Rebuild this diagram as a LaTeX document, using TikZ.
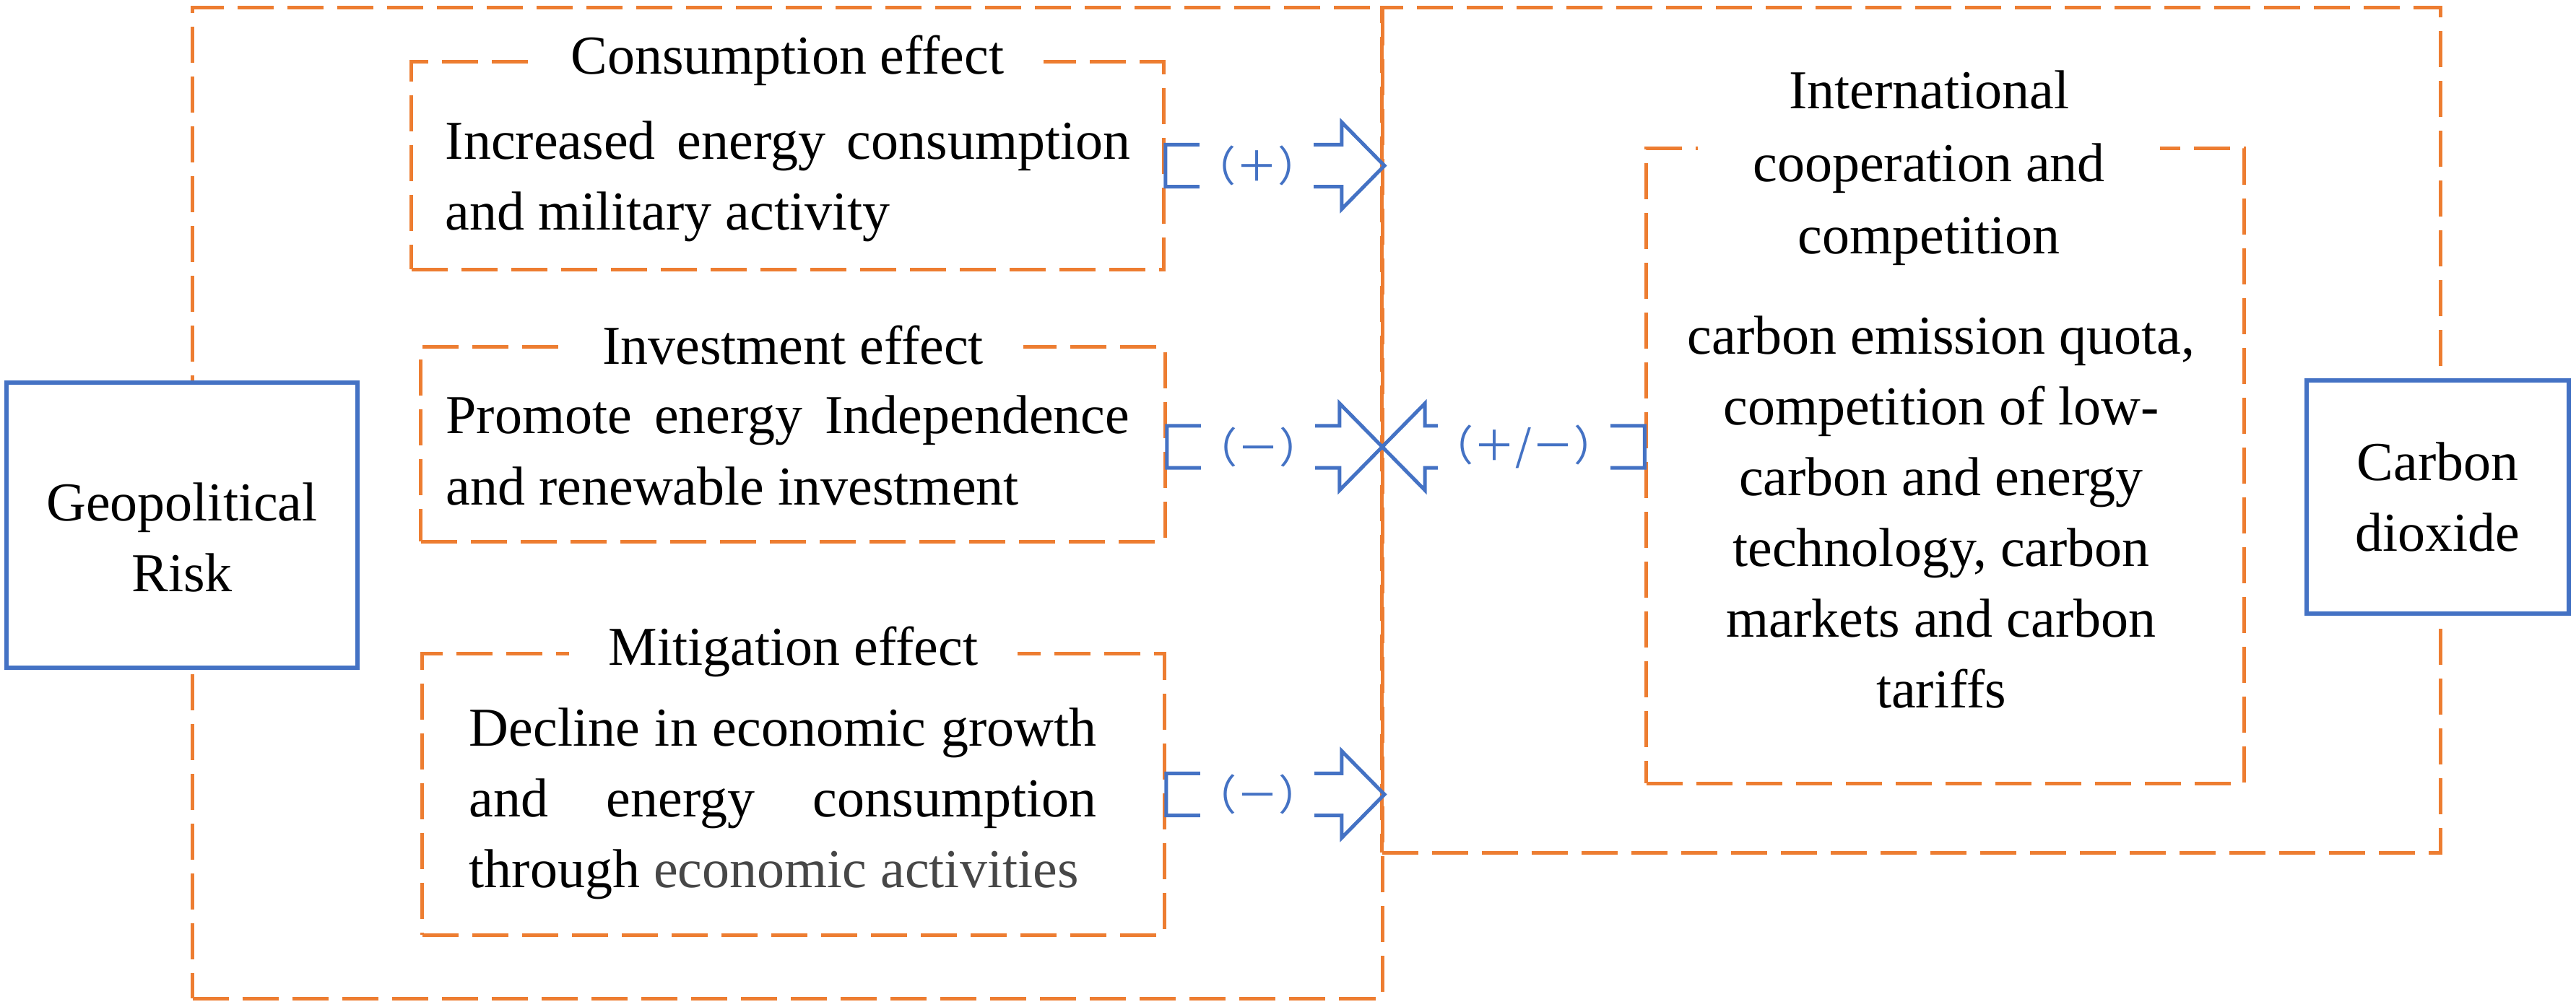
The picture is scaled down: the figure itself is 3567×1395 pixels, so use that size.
\documentclass[tikz,border=0pt]{standalone}
\usepackage{fontspec}
\setmainfont{Liberation Serif}
\newfontfamily\signfont{Noto Sans CJK SC}
\usepackage{tikz}
\usetikzlibrary{calc}
\usetikzlibrary{positioning}
\definecolor{effOrange}{HTML}{ED7D31}
\definecolor{effBlue}{HTML}{4472C4}
\hyphenpenalty=10000
\tolerance=10000
\hbadness=10000
\newcommand{\stemh}{0.29cm}
\newcommand{\headl}{0.59cm}
\newcommand{\headh}{0.6cm}
\newcommand{\tailgap}{0.45cm}
% hollow block arrow from #2 to #3, sign label #5 named #1 (anchor #4)
\newcommand{\effarrow}[5]{%
	\draw[signarrow] let \p1=(#2), \p2=(#3), \n1={ifthenelse(\x2>\x1,1,-1)},
		\n2={\x2-\n1*\headl} in
		(\x1,{\y1+\stemh}) -- (\n2,{\y1+\stemh}) -- (\n2,{\y1+\headh})
		-- (\x2,\y1) -- (\n2,{\y1-\headh}) -- (\n2,{\y1-\stemh})
		-- (\x1,{\y1-\stemh}) -- cycle
		({\x1+\n1*\tailgap},\y1) node[signlabel,anchor=#4] (#1) {#5};
}
\tikzset{
	textfont/.style={font=\fontsize{21.6pt}{27.9pt}\selectfont},
	outerbox/.style={draw=effOrange, line width=0.05cm, dash pattern=on 0.5cm off 0.19cm},
	effbox/.style={outerbox},
	efftitle/.style={fill=white, inner xsep=0.55cm, inner ysep=0.05cm, textfont},
	efftext/.style={textfont, inner sep=0pt},
	bluebox/.style={draw=effBlue, line width=0.06cm, fill=white, align=center, textfont},
	signarrow/.style={draw=effBlue, line width=0.05cm, line join=miter},
	signlabel/.style={fill=white, text=effBlue, inner xsep=-0.08cm, inner ysep=0pt, minimum height=0.72cm,
		font=\signfont\fontsize{16.5pt}{20pt}\selectfont}
}

\begin{document}
\begin{tikzpicture}[x=0.01cm, y=-0.01cm]
\useasboundingbox (0,0) rectangle (3567,1395);

% the two dashed frames
\node[outerbox, minimum width=16.47cm, minimum height=13.72cm] (lbox) at (1090.5,697) {};
\node[outerbox, minimum width=14.65cm, minimum height=11.70cm] (rbox) at (2646.5,596) {};

% start and end
\node[bluebox, minimum width=4.86cm, minimum height=3.95cm, text height=1.84cm] (risk) at (252,727.5) {Geopolitical\\Risk};
\node[bluebox, minimum width=3.63cm, minimum height=3.23cm] (co2) at (3375.5,688.5) {Carbon\\dioxide};

% consumption effect
\node[effbox, minimum width=10.41cm, minimum height=2.87cm] (cons) at (1090.5,229.5) {};
\node[efftitle] (consH) at (cons.north) {Consumption effect};
\node[efftext, text width=9.48cm, align=justify] (consT) at (1091,251)
	{Increased energy consumption\linebreak and military activity};

% investment effect
\node[effbox, minimum width=10.30cm, minimum height=2.69cm] (inv) at (1098,615.5) {};
\node[efftitle] (invH) at (inv.north) {Investment effect};
\node[efftext, text width=9.46cm, align=justify] (invT) at (1091,624)
	{Promote energy Independence\linebreak and renewable investment};

% mitigation effect
\node[effbox, minimum width=10.27cm, minimum height=3.89cm] (mit) at (1098.5,1100.5) {};
\node[efftitle] (mitH) at (mit.north) {Mitigation effect};
\node[efftext, text width=8.68cm, align=justify] (mitT) at (1084,1113)
	{Decline in economic growth\linebreak and energy consumption\linebreak
	through {\color{black!72}economic activities}};

% international cooperation and competition
\node[effbox, minimum width=8.27cm, minimum height=8.79cm] (intl) at (2693.5,645.5) {};
\node[efftitle, inner xsep=0.76cm, align=center, font=\fontsize{21.6pt}{28.6pt}\selectfont] (intlH) at (2671,233)
	{International\\cooperation and\\competition};
\node[efftext, align=center] (intlT) at (2688,709.5)
	{carbon emission quota,\\competition of low-\\carbon and energy\\technology, carbon\\markets and carbon\\tariffs};

% sign arrows
\coordinate (tipI) at (1914,619);
\effarrow{signC}{cons.east}{cons.east -| lbox.east}{west}{（＋）}
\effarrow{signI}{inv.east |- tipI}{tipI}{west}{（－）}
\effarrow{signM}{mit.east}{mit.east -| lbox.east}{west}{（－）}
\effarrow{signX}{intl.west |- tipI}{tipI}{east}{（＋/－）}
\end{tikzpicture}
\end{document}
